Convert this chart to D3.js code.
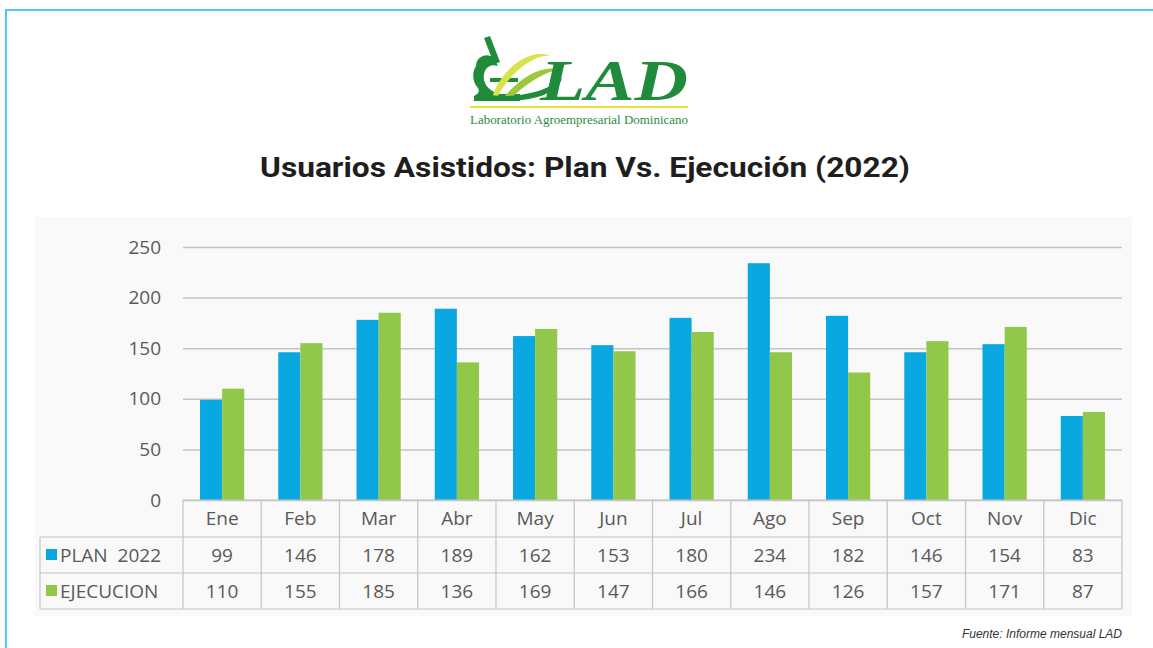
<!DOCTYPE html>
<html lang="es">
<meta charset="utf-8">
<head>
    <script src="https://d3js.org/d3.v7.min.js"></script>
    <style>
        body { margin: 0; background: #fff; }
    </style>
</head>
<body>
<div id="chart"></div>
<script>
// data
const months = ['Ene','Feb','Mar','Abr','May','Jun','Jul','Ago','Sep','Oct','Nov','Dic'];
const plan = [99,146,178,189,162,153,180,234,182,146,154,83];
const ejecucion = [110,155,185,136,169,147,166,146,126,157,171,87];
const seriesNames = ['PLAN  2022', 'EJECUCION'];
const seriesColors = ['#0aa8e0', '#92c84a'];
const yTicks = [0,50,100,150,200,250];

const W = 1153, H = 648;
const svg = d3.select('#chart').append('svg')
    .attr('width', W).attr('height', H);

// page frame (blue lines top/left)
svg.append('line').attr('x1', 5).attr('x2', W).attr('y1', 10).attr('y2', 10)
    .attr('stroke', '#4fcbf2').attr('stroke-width', 2);
svg.append('line').attr('x1', 6).attr('x2', 6).attr('y1', 9).attr('y2', H)
    .attr('stroke', '#4fcbf2').attr('stroke-width', 2);

// ---- logo ----
const logo = svg.append('g');
// microscope (rough)
logo.append('path')
    .attr('d', 'M484,38 L490,36 L500,62 L494,64 Z')
    .attr('fill', '#1f8b3b');
logo.append('path')
    .attr('d', 'M476,66 C476,56 488,52 494,58 L498,66 C492,64 486,66 484,74 C482,84 490,92 500,94 L520,94 L520,101 L474,101 L474,96 C478,94 480,92 478,88 C472,82 472,72 476,66 Z')
    .attr('fill', '#1f8b3b');
logo.append('rect').attr('x', 490).attr('y', 78).attr('width', 28).attr('height', 4)
    .attr('fill', '#1f8b3b');
// swooshes
logo.append('path')
    .attr('d', 'M492,98 C502,66 532,48 550,56 C536,54 512,70 498,96 Z')
    .attr('fill', '#d7e34a');
logo.append('path')
    .attr('d', 'M502,100 C518,78 544,64 558,70 C544,72 522,86 510,100 Z')
    .attr('fill', '#9cc93c');
logo.append('path')
    .attr('d', 'M486,94 C512,100 548,92 562,78 C558,94 530,104 488,100 Z')
    .attr('fill', '#1f8b3b');
logo.append('text')
    .attr('x', 540).attr('y', 100)
    .attr('font-family', 'Liberation Serif, DejaVu Serif, serif')
    .attr('font-style', 'italic').attr('font-weight', 'bold')
    .attr('font-size', 56).attr('fill', '#1f8b3b')
    .attr('textLength', 148).attr('lengthAdjust', 'spacingAndGlyphs')
    .text('LAD');
logo.append('line').attr('x1', 470).attr('x2', 688).attr('y1', 107).attr('y2', 107)
    .attr('stroke', '#e3e637').attr('stroke-width', 2);
logo.append('text')
    .attr('x', 470).attr('y', 124)
    .attr('font-family', 'Liberation Serif, DejaVu Serif, serif')
    .attr('font-size', 12).attr('fill', '#2e8b3e')
    .attr('textLength', 218).attr('lengthAdjust', 'spacingAndGlyphs')
    .text('Laboratorio Agroempresarial Dominicano');

// title
svg.append('text')
    .attr('x', 260).attr('y', 177)
    .attr('font-family', 'Roboto, "Noto Sans", sans-serif')
    .attr('font-weight', 'bold').attr('font-size', 28)
    .attr('fill', '#1e1e1e')
    .attr('textLength', 650).attr('lengthAdjust', 'spacingAndGlyphs')
    .text('Usuarios Asistidos: Plan Vs. Ejecución (2022)');

// chart panel
svg.append('rect').attr('x', 35).attr('y', 217).attr('width', 1097).attr('height', 399)
    .attr('fill', '#f9f9f9');

const plotLeft = 183, plotRight = 1122;
const x = d3.scaleBand().domain(months).range([plotLeft, plotRight]).paddingInner(0).paddingOuter(0);
const y = d3.scaleLinear().domain([0, 250]).range([500, 247]);
const inner = d3.scaleBand().domain([0, 1]).range([0, x.bandwidth()]).paddingInner(0).paddingOuter(0.77);

const font = '"Open Sans", "Noto Sans", sans-serif';
const textGray = '#595959';
const lineGray = '#c4c4c4';

// gridlines and y labels
const yAxis = svg.append('g')
    .attr('transform', `translate(${plotLeft},0)`)
    .call(d3.axisLeft(y).tickValues(yTicks).tickSize(-(plotRight - plotLeft) + 0).tickPadding(22));
yAxis.select('.domain').remove();
yAxis.selectAll('.tick line').attr('stroke', lineGray).attr('stroke-width', 1.5);
yAxis.selectAll('.tick text')
    .attr('font-family', font).attr('font-size', 19).attr('fill', textGray);

// bars
const series = [plan, ejecucion];
series.forEach((vals, si) => {
    svg.append('g').selectAll('rect')
        .data(vals)
        .join('rect')
        .attr('x', (d, i) => x(months[i]) + inner(si))
        .attr('y', d => y(d))
        .attr('width', inner.bandwidth())
        .attr('height', d => y(0) - y(d))
        .attr('fill', seriesColors[si]);
});

// data table
const rowTop = [500, 537, 573];
const rowBottom = 609;
const tableLeft = 40;
const tbl = svg.append('g').attr('stroke', lineGray).attr('stroke-width', 1.2);
tbl.append('line').attr('x1', plotLeft).attr('x2', plotRight).attr('y1', rowTop[0]).attr('y2', rowTop[0]);
[rowTop[1], rowTop[2], rowBottom].forEach(yy => {
    tbl.append('line').attr('x1', tableLeft).attr('x2', plotRight).attr('y1', yy).attr('y2', yy);
});
tbl.append('line').attr('x1', tableLeft).attr('x2', tableLeft).attr('y1', rowTop[1]).attr('y2', rowBottom);
months.forEach(m => {
    tbl.append('line').attr('x1', x(m)).attr('x2', x(m)).attr('y1', rowTop[0]).attr('y2', rowBottom);
});
tbl.append('line').attr('x1', plotRight).attr('x2', plotRight).attr('y1', rowTop[0]).attr('y2', rowBottom);

// category labels
svg.append('g').selectAll('text')
    .data(months).join('text')
    .attr('x', d => x(d) + x.bandwidth() / 2)
    .attr('y', 525)
    .attr('text-anchor', 'middle')
    .attr('font-family', font).attr('font-size', 19).attr('fill', textGray)
    .text(d => d);

// value rows
series.forEach((vals, si) => {
    const ty = rowTop[si + 1] + 25;
    svg.append('g').selectAll('text')
        .data(vals).join('text')
        .attr('x', (d, i) => x(months[i]) + x.bandwidth() / 2)
        .attr('y', ty)
        .attr('text-anchor', 'middle')
        .attr('font-family', font).attr('font-size', 19).attr('fill', textGray)
        .text(d => d);
    svg.append('rect')
        .attr('x', 46).attr('y', ty - 13).attr('width', 11).attr('height', 11)
        .attr('fill', seriesColors[si]);
    svg.append('text')
        .attr('x', 60).attr('y', ty)
        .attr('font-family', font).attr('font-size', 19).attr('fill', textGray)
        .attr('xml:space', 'preserve')
        .style('white-space', 'pre')
        .text(seriesNames[si]);
});

// source
svg.append('text')
    .attr('x', 1122).attr('y', 638)
    .attr('text-anchor', 'end')
    .attr('font-family', '"Liberation Sans", Arial, sans-serif')
    .attr('font-style', 'italic').attr('font-size', 12).attr('fill', '#333')
    .text('Fuente: Informe mensual LAD');
</script>
</body>
</html>
